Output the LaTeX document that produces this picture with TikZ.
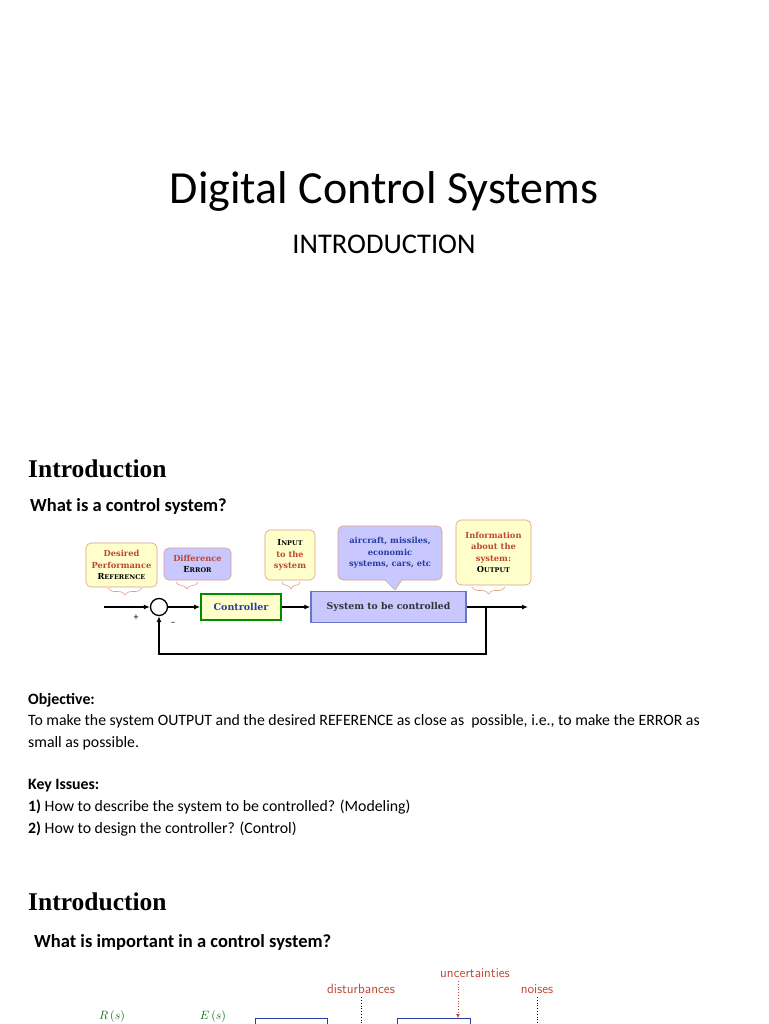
\documentclass[tikz,border=0pt]{standalone}
\usepackage{fontspec}
\setmainfont{Carlito}
\newfontfamily\tnr{Liberation Serif}
\newfontfamily\dia{DejaVu Serif}
\usetikzlibrary{arrows.meta,decorations.pathreplacing}
\definecolor{ylw}{RGB}{255,255,204}
\definecolor{lav}{RGB}{200,200,255}
\definecolor{brn}{RGB}{200,90,50}
\definecolor{dred}{RGB}{190,70,50}
\definecolor{tblue}{RGB}{40,60,160}
\definecolor{bxblue}{RGB}{40,60,170}
\newcommand{\sca}[2]{#1{\fontsize{6.5}{8}\selectfont#2}}
\tikzset{
 cbox/.style={draw=brn!60,rounded corners=5pt,line width=0.6pt,align=center,font=\dia\bfseries\fontsize{8.3}{11.5}\selectfont,inner sep=1pt},
 brc/.style={draw=brn!60,line width=0.6pt,decorate,decoration={brace,amplitude=7pt,mirror}},
 sig/.style={line width=1.4pt,-{Latex[length=6pt,width=5pt]}},
 txt/.style={anchor=west,font=\fontsize{15.8}{18}\selectfont,inner sep=0}
}
\begin{document}
\begin{tikzpicture}[x=1pt,y=-1pt]
\useasboundingbox (0,0) rectangle (768,1024);
\fill[white] (0,0) rectangle (768,1024);
\node (title) at (384,191) {\fontsize{46}{48}\selectfont Digital Control Systems};
\node (sub) at (384,244) {\fontsize{28.5}{30}\selectfont INTRODUCTION};
\node[anchor=west,inner sep=0] (h1) at (28,469) {\tnr\bfseries\fontsize{25.5}{27}\selectfont Introduction};
\node[txt] (q1) at (30,506) {\bfseries\fontsize{18.5}{20}\selectfont What is a control system?};
% diagram
\coordinate (in) at (104,607);
\node[draw,circle,line width=1.3pt,minimum size=17pt,inner sep=0] (sum) at (159,607) {};
\node[draw=green!55!black,fill=ylw,line width=1.6pt,minimum width=80pt,minimum height=26pt,font=\dia\bfseries\fontsize{9.5}{11}\selectfont,text=tblue] (ctrl) at (241,607) {Controller};
\node[draw=bxblue!70,fill=lav,line width=1.4pt,minimum width=155pt,minimum height=31pt,font=\dia\bfseries\fontsize{9.3}{11}\selectfont,text=black!80] (sys) at (388.5,607) {System to be controlled};
\coordinate (out) at (528,607);
\coordinate (tap) at (486,607);
\coordinate (fb1) at (486,654);
\coordinate (fb2) at (159,654);
\draw[sig] (in) -- (sum);
\draw[sig] (sum) -- (ctrl);
\draw[sig] (ctrl) -- (sys);
\draw[sig] (sys) -- (out);
\draw[sig] (tap) -- (fb1) -- (fb2) -- (sum);
\node[font=\fontsize{10}{11}\selectfont] (plus) at (136,618) {+};
\node[font=\fontsize{10}{11}\selectfont] (minus) at (173,624) {--};
% callouts
\node[cbox,fill=ylw,minimum width=71pt,minimum height=44pt] (c1) at (121.5,565) {\textcolor{dred}{Desired}\\\textcolor{dred}{Performance}\\\sca{R}{EFERENCE}};
\node[cbox,fill=lav,minimum width=67pt,minimum height=32pt] (c2) at (197.5,564) {\textcolor{dred}{Difference}\\\sca{E}{RROR}};
\node[cbox,fill=ylw,minimum width=50pt,minimum height=50pt] (c3) at (290,555) {\sca{I}{NPUT}\\\textcolor{dred}{to the}\\\textcolor{dred}{system}};
\node[cbox,fill=lav,minimum width=104pt,minimum height=54pt,text=tblue] (c4) at (390,553) {aircraft, missiles,\\economic\\systems, cars, etc};
\fill[lav] (385,579) -- (395,590) -- (402,579) -- cycle;
\draw[brn!60,line width=0.6pt] (385,580) -- (395,590) -- (402,580);
\node[cbox,fill=ylw,minimum width=75pt,minimum height=65pt] (c5) at (493.5,552.5) {\textcolor{dred}{Information}\\\textcolor{dred}{about the}\\\textcolor{dred}{system:}\\\sca{O}{UTPUT}};
\draw[brc] (108,588) -- (142,588);
\draw[brc] (176,582) -- (198,582);
\draw[brc] (282,582) -- (300,582);
\draw[brc] (472,587) -- (505,587);
% text
\node[txt] (obj) at (28,700) {\bfseries Objective:};
\node[txt] (o1) at (28,721) {To make the system OUTPUT and the desired REFERENCE as close as\ \ possible, i.e., to make the ERROR as};
\node[txt] (o2) at (28,743) {small as possible.};
\node[txt] (ki) at (28,786) {\bfseries Key Issues:};
\node[txt] (k1) at (28,807) {\textbf{1)} How to describe the system to be controlled? (Modeling)};
\node[txt] (k2) at (28,829) {\textbf{2)} How to design the controller? (Control)};
\node[anchor=west,inner sep=0] (h2) at (28,902) {\tnr\bfseries\fontsize{25.5}{27}\selectfont Introduction};
\node[txt] (q2) at (34,942) {\bfseries\fontsize{18.5}{20}\selectfont What is important in a control system?};
% bottom diagram
\node[font=\sffamily\fontsize{13.5}{15}\selectfont,text=dred] (unc) at (475,973) {uncertainties};
\node[font=\sffamily\fontsize{13.5}{15}\selectfont,text=dred] (dist) at (361,989) {disturbances};
\node[font=\sffamily\fontsize{13.5}{15}\selectfont,text=dred] (noi) at (537,989) {noises};
\node[font=\fontsize{12}{14}\selectfont,text=green!40!black] (rs) at (112,1016) {$R\,(s)$};
\node[font=\fontsize{12}{14}\selectfont,text=green!40!black] (es) at (213,1016) {$E\,(s)$};
\draw[bxblue,line width=1pt] (255,1030) -- (255,1018) -- (327,1018) -- (327,1030);
\draw[bxblue,line width=1pt] (397,1030) -- (397,1018) -- (470,1018) -- (470,1030);
\draw[dotted,line width=0.8pt] (dist.south) -- (361,1030);
\draw[dotted,line width=0.8pt,dred,-{Latex[length=4pt,width=4pt]}] (458,981) -- (458,1018);
\draw[dotted,line width=0.8pt] (noi.south) -- (537,1030);
\end{tikzpicture}
\end{document}
